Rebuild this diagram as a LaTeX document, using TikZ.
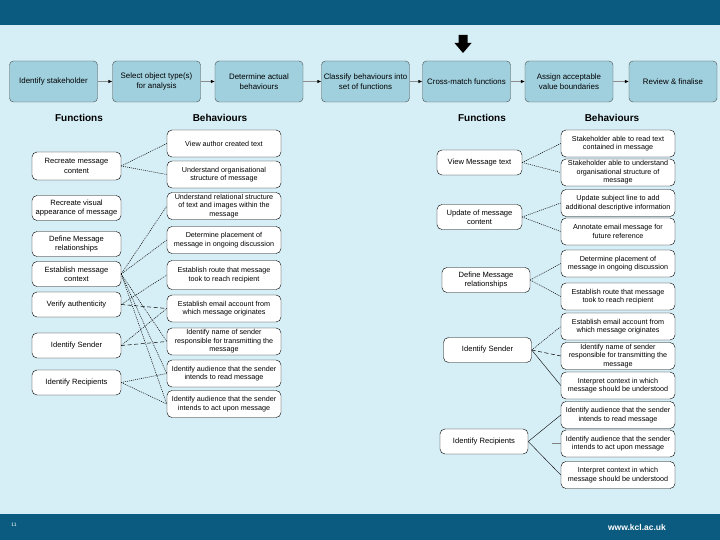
\documentclass[tikz,border=0pt]{standalone}
\usepackage{fontspec}
\setmainfont{Liberation Sans}
\usetikzlibrary{arrows.meta}
\definecolor{leiste}{RGB}{11,90,128}
\definecolor{hintergrund}{RGB}{214,238,245}
\definecolor{schrittblau}{RGB}{160,208,222}

\begin{document}
\begin{tikzpicture}[x=1pt, y=-1pt,
	schritt/.style={draw=black!70, fill=schrittblau, rounded corners=4pt, minimum width=88pt, minimum height=41pt, align=center, inner sep=2pt, font=\fontsize{7.9}{9.6}\selectfont},
	funktion/.style={draw=black, fill=white, rounded corners=5pt, minimum width=89pt, minimum height=25pt, align=center, inner sep=1.5pt, font=\fontsize{7.6}{9.2}\selectfont},
	verhalten/.style={draw=black, fill=white, rounded corners=5pt, minimum width=114pt, minimum height=27pt, align=center, inner sep=1.5pt, font=\fontsize{7.2}{8.4}\selectfont},
	titel/.style={font=\fontsize{10}{12}\selectfont\bfseries},
	pfeil/.style={draw=black!45, -{Latex[black, length=4pt, width=3.5pt]}},
	punkt/.style={line width=0.5pt, dash pattern=on 1pt off 1pt},
	strich/.style={line width=0.5pt, dash pattern=on 4pt off 2.5pt},
	linie/.style={line width=0.4pt}
	]
		
		%Hintergrund und Leisten
		\useasboundingbox (0,0) rectangle (720,540);
		\fill [hintergrund] (0,0) rectangle (720,540);
		\fill [leiste] (0,0) rectangle (720,25);
		\fill [leiste] (0,514) rectangle (720,540);
		\node [white, font=\fontsize{5}{6}\selectfont] (seite) at (14,525) {11};
		\node [white, font=\fontsize{8.5}{10}\selectfont\bfseries] (web) at (637,527) {www.kcl.ac.uk};
		
		%Prozessschritte
		\node [schritt] (s1) at (53.5,81.5) {Identify stakeholder};
		\node [schritt] (s2) at (156.5,81.5) {Select object type(s)\\for analysis};
		\node [schritt] (s3) at (259,81.5) {Determine actual\\behaviours};
		\node [schritt] (s4) at (365.5,81.5) {Classify behaviours into\\set of functions};
		\node [schritt] (s5) at (466.5,81.5) {Cross-match functions};
		\node [schritt] (s6) at (569,81.5) {Assign acceptable\\value boundaries};
		\node [schritt] (s7) at (673,81.5) {Review \& finalise};
		\draw [pfeil] (s1) -- (s2);
		\draw [pfeil] (s2) -- (s3);
		\draw [pfeil] (s3) -- (s4);
		\draw [pfeil] (s4) -- (s5);
		\draw [pfeil] (s5) -- (s6);
		\draw [pfeil] (s6) -- (s7);
		
		%Markierung
		\fill [black] (458.5,35) -- (467.5,35) -- (467.5,43) -- (471.5,43) -- (463,53) -- (454.5,43) -- (458.5,43) -- cycle;
		
		%Ueberschriften
		\node [titel] (tf1) at (79,118) {Functions};
		\node [titel] (tb1) at (220,118) {Behaviours};
		\node [titel] (tf2) at (482,118) {Functions};
		\node [titel] (tb2) at (612,118) {Behaviours};
		
		%Linke Seite: Funktionen
		\node [funktion, minimum height=28pt] (f1) at (76.5,166) {Recreate message\\content};
		\node [funktion] (f2) at (76.5,208) {Recreate visual\\appearance of message};
		\node [funktion] (f3) at (76.5,244) {Define Message\\relationships};
		\node [funktion] (f4) at (76.5,274) {Establish message\\context};
		\node [funktion] (f5) at (76.5,304.5) {Verify authenticity};
		\node [funktion] (f6) at (76.5,345.5) {Identify Sender};
		\node [funktion] (f7) at (76.5,382.5) {Identify Recipients};
		
		%Linke Seite: Verhalten
		\node [verhalten] (b1) at (224,143.5) {View author created text};
		\node [verhalten] (b2) at (224,174.5) {Understand organisational\\structure of message};
		\node [verhalten] (b3) at (224,206) {Understand relational structure\\of text and images within the\\message};
		\node [verhalten] (b4) at (224,240) {Determine placement of\\message in ongoing discussion};
		\node [verhalten, minimum height=29pt] (b5) at (224,275) {Establish route that message\\took to reach recipient};
		\node [verhalten] (b6) at (224,308.5) {Establish email account from\\which message originates};
		\node [verhalten] (b7) at (224,341.5) {Identify name of sender\\responsible for transmitting the\\message};
		\node [verhalten] (b8) at (224,373.5) {Identify audience that the sender\\intends to read message};
		\node [verhalten] (b9) at (224,404) {Identify audience that the sender\\intends to act upon message};
		
		%Linke Seite: Zuordnung
		\draw [punkt] (f1.east) -- (b1.west);
		\draw [punkt] (f1.east) -- (b2.west);
		\draw [punkt] (f4.east) -- (b3.west);
		\draw [punkt] (f4.east) -- (b4.west);
		\draw [punkt] (f4.east) -- (b7.west);
		\draw [punkt] (f4.east) -- (b8.west);
		\draw [punkt] (f4.east) -- (b9.west);
		\draw [punkt] (f5.east) -- (b5.west);
		\draw [strich] (f5.east) -- (b6.west);
		\draw [punkt] (f6.east) -- (b6.west);
		\draw [strich] (f6.east) -- (b7.west);
		\draw [punkt] (f7.east) -- (b8.west);
		\draw [punkt] (f7.east) -- (b9.west);
		
		%Rechte Seite: Funktionen
		\node [funktion, minimum width=85pt] (g1) at (479.5,162.5) {View Message text};
		\node [funktion, minimum width=85pt] (g2) at (479.5,217) {Update of message\\content};
		\node [funktion, minimum width=88pt] (g3) at (486,280) {Define Message\\relationships};
		\node [funktion, minimum width=88pt] (g4) at (487.5,350) {Identify Sender};
		\node [funktion, minimum width=88pt] (g5) at (484,441.5) {Identify Recipients};
		
		%Rechte Seite: Verhalten
		\node [verhalten] (r1) at (618,143.5) {Stakeholder able to read text\\contained in message};
		\node [verhalten] (r2) at (618,172.5) {Stakeholder able to understand\\organisational structure of\\message};
		\node [verhalten] (r3) at (618,203) {Update subject line to add\\additional descriptive information};
		\node [verhalten] (r4) at (618,231.5) {Annotate email message for\\future reference};
		\node [verhalten] (r5) at (618,263.5) {Determine placement of\\message in ongoing discussion};
		\node [verhalten] (r6) at (618,296.5) {Establish route that message\\took to reach recipient};
		\node [verhalten] (r7) at (618,326.5) {Establish email account from\\which message originates};
		\node [verhalten] (r8) at (618,356) {Identify name of sender\\responsible for transmitting the\\message};
		\node [verhalten] (r9) at (618,385.5) {Interpret context in which\\message should be understood};
		\node [verhalten] (r10) at (618,415) {Identify audience that the sender\\intends to read message};
		\node [verhalten] (r11) at (618,443.5) {Identify audience that the sender\\intends to act upon message};
		\node [verhalten] (r12) at (618,475) {Interpret context in which\\message should be understood};
		
		%Rechte Seite: Zuordnung
		\draw [punkt] (g1.east) -- (r1.west);
		\draw [punkt] (g1.east) -- (r2.west);
		\draw [punkt] (g2.east) -- (r3.west);
		\draw [punkt] (g2.east) -- (r4.west);
		\draw [punkt] (g3.east) -- (r5.west);
		\draw [punkt] (g3.east) -- (r6.west);
		\draw [punkt] (g4.east) -- (r7.west);
		\draw [strich] (g4.east) -- (r8.west);
		\draw [linie] (g4.east) -- (r9.west);
		\draw [linie] (g5.east) -- (r10.west);
		\draw [linie] (g5.east) -- (r12.west);
		\coordinate (stummel) at (552,443.5);
		\draw [linie, draw=gray] (stummel) -- (r11.west);
		
\end{tikzpicture}
\end{document}
